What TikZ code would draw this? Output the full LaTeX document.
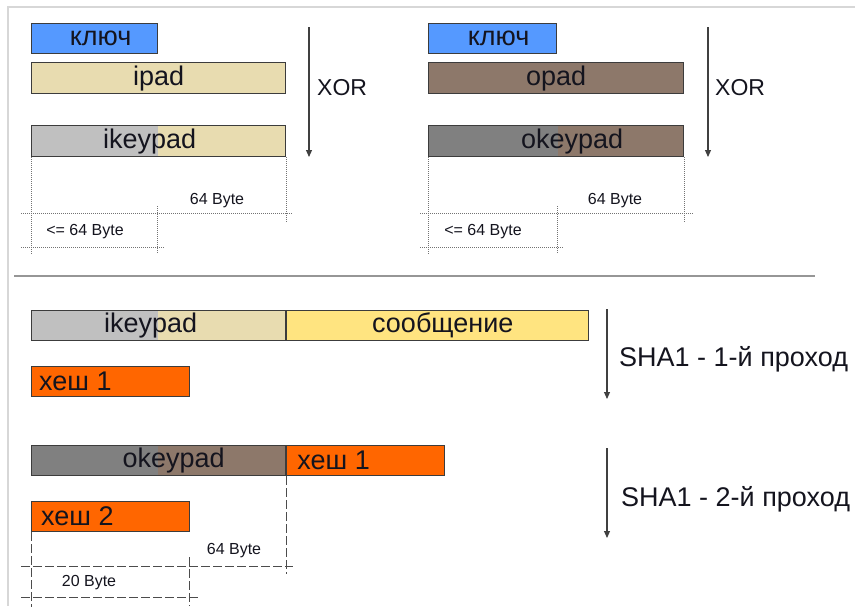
\documentclass[tikz,border=0pt]{standalone}
\usepackage{fontspec}
\setmainfont{Liberation Sans}
\usetikzlibrary{arrows.meta}

\definecolor{keyblue}{RGB}{85,153,255}
\definecolor{ipadbeige}{RGB}{232,220,176}
\definecolor{opadbrown}{RGB}{141,120,106}
\definecolor{lightgr}{RGB}{192,192,192}
\definecolor{midgr}{RGB}{128,128,128}
\definecolor{msgyellow}{RGB}{255,228,128}
\definecolor{hashorange}{RGB}{255,102,0}
\definecolor{edgegr}{RGB}{60,60,60}
\definecolor{framegr}{RGB}{215,215,215}
\definecolor{sepgr}{RGB}{150,150,150}
\definecolor{txt}{RGB}{20,20,30}

\tikzset{
  blk/.style={draw=edgegr, line width=1.2pt, anchor=north west, inner sep=0pt,
    minimum height=#1, text=txt, font=\fontsize{27}{27}\selectfont},
  blk/.default=31pt,
  % two-coloured block: left part filled with #1 over width #2
  split/.style 2 args={path picture={\fill[#1] (path picture bounding box.north west)
    rectangle ([xshift=#2]path picture bounding box.south west);}},
  lbl/.style={text=txt, inner sep=0pt, font=\fontsize{27}{27}\selectfont},
  hashlbl/.style={text=txt, inner sep=0pt, anchor=west, font=\fontsize{27}{27}\selectfont},
  oplbl/.style={text=txt, inner sep=0pt, anchor=west, font=\fontsize{23}{23}\selectfont},
  shalbl/.style={text=txt, inner sep=0pt, anchor=west, font=\fontsize{27}{27}\selectfont},
  dimlbl/.style={text=txt, inner sep=0pt, font=\fontsize{16}{16}\selectfont},
  flow/.style={draw=black!75, line width=1.1pt, -{Triangle[length=7pt,width=6pt]}},
  dimdot/.style={draw=black!55, line width=1pt, dash pattern=on 1pt off 1pt},
  dimdash/.style={draw=black!70, line width=1pt, dash pattern=on 9pt off 3pt},
}

\begin{document}
\begin{tikzpicture}[x=1pt, y=-1pt]
\useasboundingbox (0,0) rectangle (855,606);

% page frame
\draw[framegr, line width=1.6pt] (855,7) -- (8,7) -- (8,606);

% ---------- inner padding ----------
\node[blk=30pt, fill=keyblue, minimum width=126pt] (key1) at (31,23) {};
\node[lbl] (key1t) at ([xshift=6pt]key1.center) {ключ};
\node[blk, fill=ipadbeige, minimum width=254pt] (ipad) at (31,62) {ipad};
\node[blk, fill=ipadbeige, split={lightgr}{126pt}, minimum width=254pt] (ikp1) at (31,125) {};
\node[lbl] (ikp1t) at ([xshift=-9pt]ikp1.center) {ikeypad};

\coordinate (x1s) at (309,27);
\coordinate (x1e) at (309,157);
\draw[flow] (x1s) -- (x1e);
\node[oplbl] (xor1) at (317,88) {XOR};

\draw[dimdot] (ikp1.south west) -- ++(0,97);
\draw[dimdot] (ikp1.south east) -- ++(0,66);
\coordinate (m1) at (157,206);
\draw[dimdot] (m1) -- ++(0,47);
\coordinate (h1l) at (21,213);
\coordinate (h1r) at (293,213);
\draw[dimdot] (h1l) -- (h1r);
\coordinate (h2l) at (21,247);
\coordinate (h2r) at (165,247);
\draw[dimdot] (h2l) -- (h2r);
\node[dimlbl] (d64a) at (217,201) {64 Byte};
\node[dimlbl] (d64b) at (85,232) {<= 64 Byte};

% ---------- outer padding ----------
\node[blk=30pt, fill=keyblue, minimum width=128pt] (key2) at (428,23) {};
\node[lbl] (key2t) at ([xshift=6pt]key2.center) {ключ};
\node[blk, fill=opadbrown, minimum width=255pt] (opad) at (428,62) {opad};
\node[blk, fill=opadbrown, split={midgr}{129pt}, minimum width=255pt] (okp1) at (428,125) {};
\node[lbl] (okp1t) at ([xshift=16pt]okp1.center) {okeypad};

\coordinate (x2s) at (708,27);
\coordinate (x2e) at (708,157);
\draw[flow] (x2s) -- (x2e);
\node[oplbl] (xor2) at (715,88) {XOR};

\draw[dimdot] (okp1.south west) -- ++(0,97);
\draw[dimdot] (okp1.south east) -- ++(0,66);
\coordinate (m2) at (557,206);
\draw[dimdot] (m2) -- ++(0,47);
\coordinate (h3l) at (420,213);
\coordinate (h3r) at (693,213);
\draw[dimdot] (h3l) -- (h3r);
\coordinate (h4l) at (420,247);
\coordinate (h4r) at (564,247);
\draw[dimdot] (h4l) -- (h4r);
\node[dimlbl] (d64c) at (615,201) {64 Byte};
\node[dimlbl] (d64d) at (483,232) {<= 64 Byte};

% separator
\coordinate (sepl) at (14,276);
\coordinate (sepr) at (815,276);
\draw[sepgr, line width=2.6pt] (sepl) -- (sepr);

% ---------- first SHA1 pass ----------
\node[blk=30pt, fill=ipadbeige, split={lightgr}{126pt}, minimum width=254pt] (ikp2) at (31,310) {};
\node[lbl] (ikp2t) at ([xshift=-8pt]ikp2.center) {ikeypad};
\node[blk=30pt, fill=msgyellow, minimum width=302pt] (msg) at (ikp2.north east) {};
\node[lbl] (msgt) at ([xshift=5pt]msg.center) {сообщение};
\node[blk=30pt, fill=hashorange, minimum width=158pt] (hash1a) at (31,366) {};
\node[hashlbl] (hash1at) at ([xshift=8pt]hash1a.west) {хеш 1};

\coordinate (s1s) at (607,309);
\coordinate (s1e) at (607,399);
\draw[flow] (s1s) -- (s1e);
\node[shalbl] (sha1) at (619,359) {SHA1 - 1-й проход};

% ---------- second SHA1 pass ----------
\node[blk=30pt, fill=opadbrown, split={midgr}{126pt}, minimum width=254pt] (okp2) at (31,445) {};
\node[lbl] (okp2t) at ([xshift=15pt]okp2.center) {okeypad};
\node[blk=30pt, fill=hashorange, minimum width=158pt] (hash1b) at (okp2.north east) {};
\node[hashlbl] (hash1bt) at ([xshift=11pt]hash1b.west) {хеш 1};
\node[blk=30pt, fill=hashorange, minimum width=158pt] (hash2) at (31,501) {};
\node[hashlbl] (hash2t) at ([xshift=10pt]hash2.west) {хеш 2};

\coordinate (s2s) at (607,448);
\coordinate (s2e) at (607,538);
\draw[flow] (s2s) -- (s2e);
\node[shalbl] (sha2) at (621,499) {SHA1 - 2-й проход};

\draw[dimdash] (okp2.south east) -- ++(0,98);
\draw[dimdash] (hash2.south west) -- ++(0,75);
\coordinate (m3) at (189,557);
\coordinate (m3b) at (189,606);
\draw[dimdash] (m3) -- (m3b);
\coordinate (h5l) at (21,566);
\coordinate (h5r) at (293,566);
\draw[dimdash] (h5l) -- (h5r);
\coordinate (h6l) at (21,597);
\coordinate (h6r) at (198,597);
\draw[dimdash] (h6l) -- (h6r);
\node[dimlbl] (d64e) at (234,551) {64 Byte};
\node[dimlbl] (d20) at (89,583) {20 Byte};
\end{tikzpicture}
\end{document}
